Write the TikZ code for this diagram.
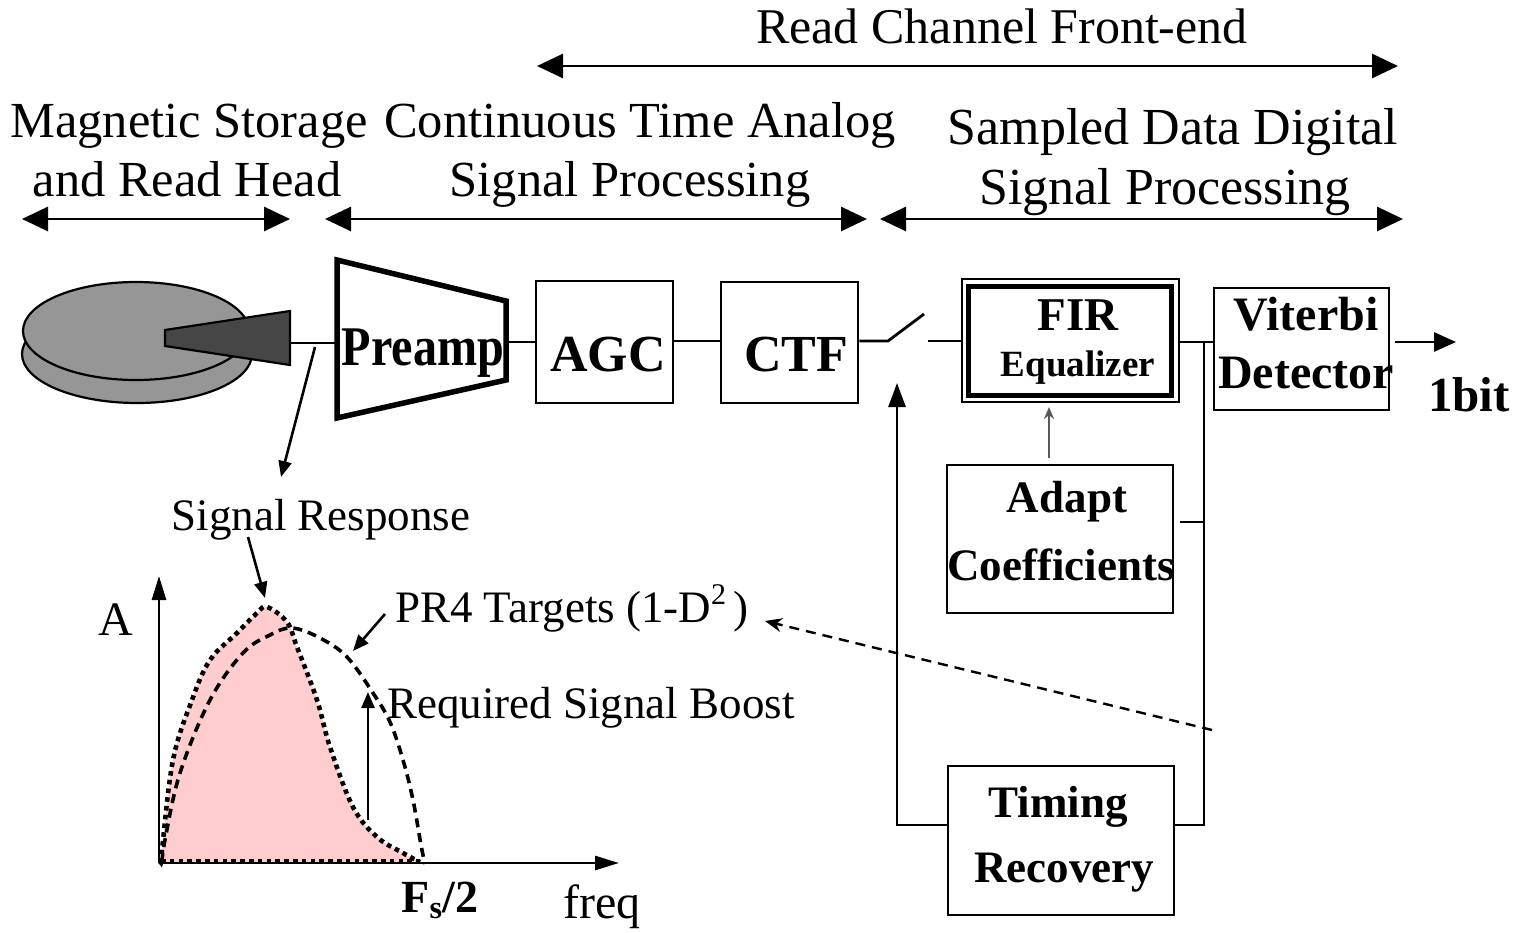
\documentclass[tikz,border=0pt]{standalone}
\usepackage{fontspec}
\setmainfont{Liberation Serif}
\usetikzlibrary{arrows.meta}
\newcommand\fsz[1]{\fontsize{#1pt}{#1pt}\selectfont}
\definecolor{disk}{RGB}{150,150,150}
\definecolor{headc}{RGB}{70,70,70}
\definecolor{resp}{RGB}{255,205,205}
\begin{document}
\begin{tikzpicture}[x=1pt,y=-1pt,
  wire/.style={line width=2.8pt},
  span/.style={line width=2.8pt,{Triangle[length=26pt,width=24pt]}-{Triangle[length=26pt,width=24pt]}},
  blk/.style={draw,line width=2.8pt,inner sep=0pt},
  lbl/.style={inner sep=0pt,anchor=base},
  bl/.style={lbl,font=\bfseries\fsz{#1}},
  rl/.style={lbl,font=\fsz{#1}},
  sarrow/.style={line width=2.6pt,-{Triangle[length=16pt,width=13pt]}},
  dotc/.style={line width=4.6pt,dash pattern=on 4.6pt off 4.2pt},
  dashc/.style={line width=3.6pt,dash pattern=on 9pt off 6pt}]
\useasboundingbox (0,0) rectangle (1517,933);

% ---------- headings and span arrows ----------
\node[rl=50] (rcfe) at (1002,44) {Read Channel Front-end};
\coordinate (rcA) at (537,66); \coordinate (rcB) at (1398,66);
\draw[span] (rcA) -- (rcB);

\node[rl=50.5] (magA) at (189,138) {Magnetic Storage};
\node[rl=50.5] (magB) at (187,197) {and Read Head};
\node[rl=50.5] (ctA) at (640,138) {Continuous Time Analog};
\node[rl=50.5] (ctB) at (630,197) {Signal Processing};
\node[rl=52] (sdA) at (1173,145) {Sampled Data Digital};
\node[rl=52] (sdB) at (1165,205) {Signal Processing};

\coordinate (s1A) at (22,219);  \coordinate (s1B) at (290,219);
\coordinate (s2A) at (325,219); \coordinate (s2B) at (867,219);
\coordinate (s3A) at (880,219); \coordinate (s3B) at (1403,219);
\draw[span] (s1A) -- (s1B);
\draw[span] (s2A) -- (s2B);
\draw[span] (s3A) -- (s3B);

% ---------- disk and read head ----------
\draw[line width=2.2pt,fill=disk] (137,354) ellipse [x radius=115, y radius=49];
\draw[line width=2.2pt,fill=disk] (136,331) ellipse [x radius=113, y radius=49];
\draw[line width=2.2pt,fill=headc] (165,330) -- (290,311) -- (290,365) -- (165,346) -- cycle;
\coordinate (headOut) at (290,343);

% ---------- preamp ----------
\draw[line width=5.5pt,line join=miter] (337,260) -- (506,301) -- (506,380) -- (337,418) -- cycle;
\coordinate (preIn) at (337,343);
\coordinate (preOut) at (506,342);
\node[bl=56,xscale=0.86] (preT) at (423,365) {Preamp};

% ---------- AGC / CTF ----------
\node[blk,minimum width=137pt,minimum height=122pt] (agc) at (604.5,342) {};
\node[bl=52] (agcT) at (608,371) {AGC};
\node[blk,minimum width=137pt,minimum height=121pt] (ctf) at (789.5,342.5) {};
\node[bl=52] (ctfT) at (796,371) {CTF};

\draw[wire] (headOut) -- (preIn);
\draw[wire] (preOut) -- (agc.west |- preOut);
\draw[wire] (agc.east |- 0,341) -- (ctf.west |- 0,341);

% ---------- sampling switch ----------
\coordinate (swA) at (888,341);
\coordinate (swB) at (924,314);
\coordinate (swC) at (928,341);
\draw[wire] (ctf.east |- swA) -- (swA) -- (swB);

% ---------- FIR equalizer ----------
\node[blk,line width=2.2pt,minimum width=217pt,minimum height=123pt] (fir) at (1070.5,340.5) {};
\node[draw,line width=5.5pt,inner sep=0pt,minimum width=203pt,minimum height=109pt] (firIn) at (1070,341) {};
\node[bl=47] (firT) at (1078,330) {FIR};
\node[bl=37] (eqT) at (1078,376) {Equalizer};
\draw[wire] (swC) -- (fir.west |- swC);

% ---------- Viterbi detector ----------
\node[blk,minimum width=175pt,minimum height=122pt] (vit) at (1301.5,349) {};
\node[bl=48] (vitA) at (1306,330) {Viterbi};
\node[bl=48] (vitB) at (1306,388) {Detector};
\coordinate (busTop) at (1204,342);
\draw[wire] (fir.east |- busTop) -- (vit.west |- busTop);
\coordinate (outA) at (1395,342);
\coordinate (outB) at (1456,342);
\draw[line width=2.8pt,-{Triangle[length=22pt,width=19pt]}] (outA) -- (outB);
\node[bl=49] (bitT) at (1469,411) {1bit};

% ---------- adaptation and timing loops ----------
\node[blk,minimum width=226pt,minimum height=148pt] (adapt) at (1060,539) {};
\node[bl=45] (adA) at (1067,512) {Adapt};
\node[bl=45] (adB) at (1061,580) {Coefficients};
\node[blk,minimum width=226pt,minimum height=149pt] (tim) at (1061,840.5) {};
\node[bl=45] (tmA) at (1058,817) {Timing};
\node[bl=45] (tmB) at (1064,882) {Recovery};

\coordinate (adTap) at (1049,458);
\coordinate (firTap) at (1049,407);
\draw[line width=2pt,black!65,-{Stealth[length=12pt,width=10pt,open]}] (adTap) -- (firTap);

\coordinate (busBot) at (1204,825);
\coordinate (adOut) at (1180,522);
\draw[wire] (busTop) -- (busBot) -- (tim.east |- busBot);
\draw[wire] (adOut) -- (busTop |- adOut);

\coordinate (fbCorner) at (897,825);
\coordinate (fbTip) at (897,383);
\draw[wire,-{Triangle[length=24pt,width=17pt]}] (tim.west |- fbCorner) -- (fbCorner) -- (fbTip);

% ---------- spectrum plot ----------
\fill[resp] plot[smooth,tension=0.6] coordinates {(161,862) (162,850) (173,760) (192,700) (210,660) (237,633) (257,613) (267,607) (287,622) (297,647) (317,700) (330,747) (353,807) (377,837) (403,853) (420,862)} -- cycle;

\draw[dashc] plot[smooth,tension=0.6] coordinates {(162,862) (165,840) (180,773) (210,700) (243,653) (270,635) (292,628) (320,638) (347,657) (373,693) (390,722) (403,760) (413,800) (421,845) (425,864)};
\draw[dotc] plot[smooth,tension=0.6] coordinates {(161,862) (162,850) (173,760) (192,700) (210,660) (237,633) (257,613) (267,607) (287,622) (297,647) (317,700) (330,747) (353,807) (377,837) (403,853) (420,862)};
\draw[dotc] (161,861) -- (420,861);

\coordinate (org) at (159,863);
\coordinate (yTop) at (159,576);
\coordinate (xEnd) at (619,863);
\draw[line width=2.8pt,-{Triangle[length=24pt,width=14pt]}] (org) -- (yTop);
\draw[line width=2.8pt,-{Triangle[length=24pt,width=14pt]}] (org) -- (xEnd);

\node[rl=48] (aT) at (116,635) {A};
\node[rl=48] (freqT) at (602,918) {freq};
\node[bl=46] (fsT) at (440,912) {F\textsubscript{s}/2};

\node[rl=45] (srT) at (321,530) {Signal Response};
\coordinate (tapPt) at (315,347);
\coordinate (srTip) at (281,477);
\draw[sarrow] (tapPt) -- (srTip);
\coordinate (srFrom) at (248,537);
\coordinate (peakPt) at (265,598);
\draw[sarrow] (srFrom) -- (peakPt);

\node[rl=45,anchor=base west] (pr4T) at (395,622) {PR4 Targets (1-D\raisebox{18pt}{\fsz{30}2}\,)};
\coordinate (pr4From) at (385,614);
\coordinate (pr4Pt) at (353,651);
\draw[sarrow] (pr4From) -- (pr4Pt);

\node[rl=45,anchor=base west] (rsbT) at (387,718) {Required Signal Boost};
\coordinate (boostLo) at (368,820);
\coordinate (boostHi) at (368,692);
\draw[sarrow] (boostLo) -- (boostHi);

% dashed pointer from the timing loop to the target label
\coordinate (dashStart) at (1212,730);
\coordinate (dashTip) at (765,621);
\draw[line width=2.4pt,dash pattern=on 10pt off 7pt,-{Stealth[length=17pt,width=14pt]}] (dashStart) -- (dashTip);
\end{tikzpicture}
\end{document}
